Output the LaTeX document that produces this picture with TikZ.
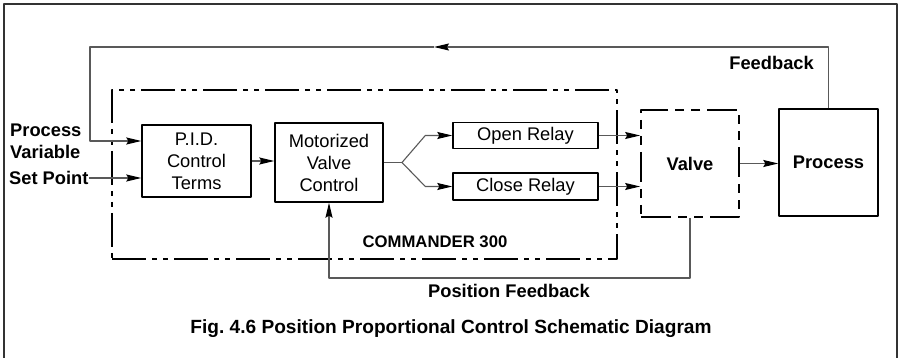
\documentclass[tikz,border=0pt]{standalone}
\usepackage{fontspec}
\setmainfont{Liberation Sans}
\usetikzlibrary{arrows.meta}
\tikzset{
  box/.style={draw, line width=1.4pt, inner sep=0pt, align=center},
  lbl/.style={font=\fontsize{18.3}{22}\selectfont\bfseries, inner sep=0pt},
  wire/.style={line width=1.1pt, black!65},
  dashdot/.style={line width=2.2pt, dash pattern=on 34pt off 6pt on 5pt off 6pt on 5pt off 6pt},
  dashlong/.style={line width=1.7pt, dash pattern=on 30pt off 7pt on 9pt off 7pt on 9pt off 7pt}
}
\begin{document}
\frenchspacing
\begin{tikzpicture}[x=1pt, y=-1pt, font=\fontsize{18.3}{22}\selectfont, line join=round, >={Stealth[length=15pt,width=7pt,inset=2pt,color=black]}]
\useasboundingbox (0,0) rectangle (903,358);
%frame
\draw[line width=1.4pt, black!80] (4,358) -- (4,4) -- (897,4) -- (897,358);
%blocks
\node[box, dashdot, minimum width=505, minimum height=169] (cmd) at (364.5,174.5) {};
\node[box, minimum width=109, minimum height=72] (pid) at (196.5,161) {P.I.D.\\Control\\Terms};
\node[box, minimum width=108, minimum height=79] (mvc) at (329,162.5) {Motorized\\Valve\\Control};
\node[box, minimum width=145, minimum height=26] (open) at (525.5,135.5) {Open Relay};
\node[box, minimum width=145, minimum height=27] (close) at (525.5,186.5) {Close Relay};
\node[box, dashlong, font=\fontsize{18.3}{22}\selectfont\bfseries, minimum width=98, minimum height=107] (valve) at (690,163.5) {Valve};
\node[box, font=\fontsize{18.3}{22}\selectfont\bfseries, minimum width=99, minimum height=107] (proc) at (828.5,162.5) {Process};
%labels
\node[lbl, anchor=west, align=left] (pv) at (10,141) {Process\\Variable};
\node[lbl, anchor=west] (sp) at (9,178) {Set Point};
\node[lbl, anchor=east] (fb) at (814,63) {Feedback};
\node[lbl, font=\fontsize{16.7}{20}\selectfont\bfseries] (cmdlbl) at (435,242) {COMMANDER 300};
\node[lbl] (posfb) at (509,291) {Position Feedback};
\node[lbl, font=\fontsize{19.1}{22}\selectfont\bfseries] (cap) at (451,329) {Fig. 4.6 Position Proportional Control Schematic Diagram};
%connectors
\coordinate (fbtip) at (434,47);
\coordinate (pvturn) at (90,47);
\coordinate (split) at (402,162.5);
\coordinate (posturn) at (690,278);
\draw[wire,->] (proc.north) |- (fbtip);
\draw[wire,->] (fbtip) -- (pvturn) |- ([yshift=20pt]pid.west);
\draw[wire,->] (sp.east) -- (sp.east -| pid.west);
\draw[wire,->] (pid.east) -- (pid.east -| mvc.west);
\draw[wire] (mvc.east) -- (split);
\foreach \r in {open,close}
{
\draw[wire,->] (split) -- ([xshift=-27pt]\r.west) -- (\r.west);
\draw[wire,->] (\r.east) -- (\r.east -| valve.west);
}
\draw[wire,->] (valve.east) -- (valve.east -| proc.west);
\draw[wire,->] (valve.south) -- (posturn) -| (mvc.south);
\end{tikzpicture}
\end{document}
